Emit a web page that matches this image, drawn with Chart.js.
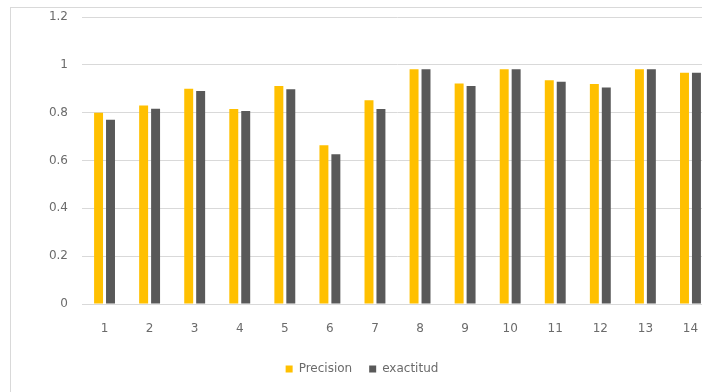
<!DOCTYPE html>
<html>
<head>
<meta charset="utf-8">
<script src="https://cdn.jsdelivr.net/npm/chart.js@4"></script>
<style>
    html, body { margin: 0; padding: 0; background: #fff; overflow: hidden; width: 702px; height: 392px; }
    #box {
        position: absolute;
        left: 10px;
        top: 7px;
        width: 708px;
        height: 384px;
        border: 1px solid #d9d9d9;
        background: #fff;
    }
</style>
</head>
<body>
<div id="box"><canvas id="chart"></canvas></div>
<script>
const categories = ['1', '2', '3', '4', '5', '6', '7', '8', '9', '10', '11', '12', '13', '14']
const precision = [0.80, 0.83, 0.90, 0.815, 0.912, 0.664, 0.852, 0.982, 0.922, 0.982, 0.936, 0.92, 0.982, 0.967]
const exactitud = [0.77, 0.816, 0.891, 0.807, 0.898, 0.626, 0.815, 0.982, 0.912, 0.982, 0.929, 0.905, 0.982, 0.967]
const yTicks = [0, 0.2, 0.4, 0.6, 0.8, 1, 1.2]

Chart.defaults.font.family = '"DejaVu Sans", "Open Sans", sans-serif'
Chart.defaults.font.size = 12
Chart.defaults.color = '#6b6b6b'

const ctx = document.getElementById('chart').getContext('2d')
new Chart(ctx, {
    type: 'bar',
    data: {
        labels: categories,
        datasets: [
            { label: 'Precision', data: precision, backgroundColor: '#ffc000' },
            { label: 'exactitud', data: exactitud, backgroundColor: '#595959' }
        ]
    },
    options: {
        responsive: true,
        maintainAspectRatio: false,
        animation: false,
        categoryPercentage: 0.53,
        barPercentage: 0.75,
        layout: { padding: { top: 9, right: 6, bottom: 7, left: 0 } },
        plugins: {
            tooltip: { enabled: false },
            legend: {
                position: 'bottom',
                labels: {
                    boxWidth: 7,
                    boxHeight: 7,
                    padding: 17,
                    color: '#6b6b6b',
                    font: { size: 12 }
                }
            }
        },
        scales: {
            x: {
                grid: { display: false },
                border: { display: true, color: '#d9d9d9' },
                ticks: { padding: 10, maxRotation: 0 },
                afterFit: scale => { scale.height = 42 }
            },
            y: {
                min: yTicks[0],
                max: yTicks[yTicks.length - 1],
                grid: { color: '#d9d9d9', drawTicks: false },
                border: { display: false },
                ticks: {
                    stepSize: 0.2,
                    padding: 14,
                    callback: v => String(Math.round(v * 10) / 10)
                },
                afterFit: scale => {
                    scale.width = 71
                    scale.paddingTop = 0
                    scale.paddingBottom = 0
                }
            }
        }
    }
})
</script>
</body>
</html>
